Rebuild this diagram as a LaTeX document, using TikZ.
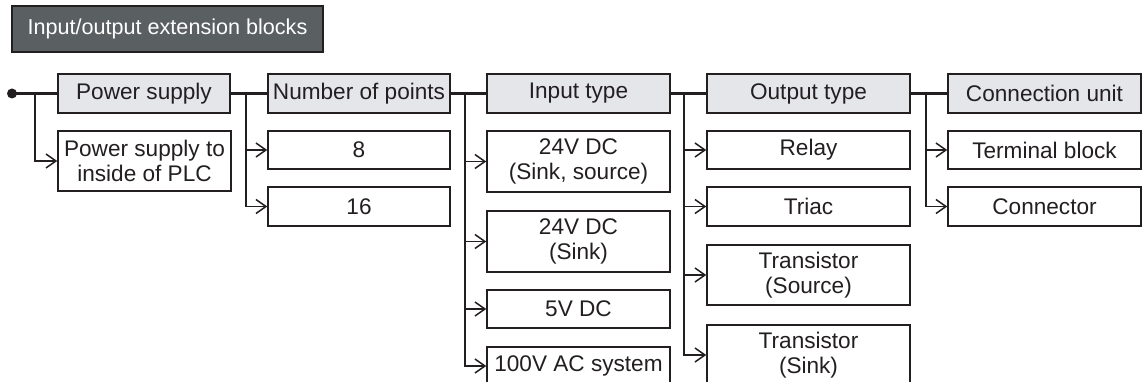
\documentclass[tikz,border=0pt]{standalone}
\usepackage{fontspec}
\setmainfont{Liberation Sans}
\usetikzlibrary{arrows.meta}
\definecolor{ink}{HTML}{231F20}
\definecolor{hdrfill}{HTML}{E4E6EA}
\definecolor{titlefill}{HTML}{5A6062}
\tikzset{
  base/.style={rectangle, inner sep=0pt, align=center, text=ink, font=\fontsize{22.6}{25.5}\selectfont},
  hdr/.style={base, draw=ink, line width=2.8pt, fill=hdrfill, minimum height=39pt},
  opt/.style={base, draw=ink, line width=1.5pt, fill=white},
  titlebox/.style={base, draw=ink, line width=1.2pt, fill=titlefill, text=white, font=\fontsize{21.6}{26}\selectfont},
  main/.style={draw=ink, line width=2.8pt},
  br/.style={draw=ink, line width=1.5pt, -{Straight Barb[length=10pt,width=14pt]}},
}
\begin{document}
\begin{tikzpicture}[x=1pt,y=-1pt]
\clip (0,0) rectangle (1145,382);
\fill[white] (0,0) rectangle (1145,382);
% title
\node[titlebox, minimum width=311pt, minimum height=46pt] (title) at (167.5,29) {Input/output extension blocks};
% headers
\node[hdr, minimum width=172pt] (ps) at (144,93.5) {Power supply};
\node[hdr, minimum width=182pt] (nop) at (359,93.5) {Number of points};
\node[hdr, minimum width=183pt] (it) at (578.5,93.5) {Input type};
\node[hdr, minimum width=203pt] (ot) at (808.5,93.5) {Output type};
\node[hdr, minimum width=193pt] (cu) at (1044.5,93.5) {Connection unit};
% options
\node[opt, minimum width=173pt, minimum height=60pt] (ps1) at (144.5,161) {Power supply to\\inside of PLC};
\node[opt, minimum width=182pt, minimum height=38pt] (n8) at (359,150) {8};
\node[opt, minimum width=182pt, minimum height=39pt] (n16) at (359,206.5) {16};
\node[opt, minimum width=183pt, minimum height=61pt] (i1) at (578.5,161.5) {24V DC\\(Sink, source)};
\node[opt, minimum width=183pt, minimum height=61pt] (i2) at (578.5,241.5) {24V DC\\(Sink)};
\node[opt, minimum width=183pt, minimum height=38pt] (i3) at (578.5,309) {5V DC};
\node[opt, minimum width=183pt, minimum height=38pt] (i4) at (578.5,366) {100V AC system};
\node[opt, minimum width=203pt, minimum height=38pt] (o1) at (808.5,150) {Relay};
\node[opt, minimum width=203pt, minimum height=39pt] (o2) at (808.5,206.5) {Triac};
\node[opt, minimum width=203pt, minimum height=60pt] (o3) at (808.5,275) {Transistor\\(Source)};
\node[opt, minimum width=203pt, minimum height=60pt] (o4) at (808.5,355) {Transistor\\(Sink)};
\node[opt, minimum width=193pt, minimum height=38pt] (c1) at (1044.5,150) {Terminal block};
\node[opt, minimum width=193pt, minimum height=39pt] (c2) at (1044.5,206.5) {Connector};
% start dot and branch points
\coordinate (start) at (12,93.5);
\coordinate (b0) at (35,93.5);
\coordinate (b1) at (246,93.5);
\coordinate (b2) at (465,93.5);
\coordinate (b3) at (684,93.5);
\coordinate (b4) at (926,93.5);
% main line
\draw[main] (start) -- (ps.west);
\draw[main] (ps.east) -- (nop.west);
\draw[main] (nop.east) -- (it.west);
\draw[main] (it.east) -- (ot.west);
\draw[main] (ot.east) -- (cu.west);
\fill[ink] (start) circle (5pt);
% branches
\draw[br] (b0) |- (ps1.west);
\draw[br] (b1) |- (n8.west);
\draw[br] (b1) |- (n16.west);
\draw[br] (b2) |- (i1.west);
\draw[br] (b2) |- (i2.west);
\draw[br] (b2) |- (i3.west);
\draw[br] (b2) |- (i4.west);
\draw[br] (b3) |- (o1.west);
\draw[br] (b3) |- (o2.west);
\draw[br] (b3) |- (o3.west);
\draw[br] (b3) |- (o4.west);
\draw[br] (b4) |- (c1.west);
\draw[br] (b4) |- (c2.west);
\end{tikzpicture}
\end{document}
